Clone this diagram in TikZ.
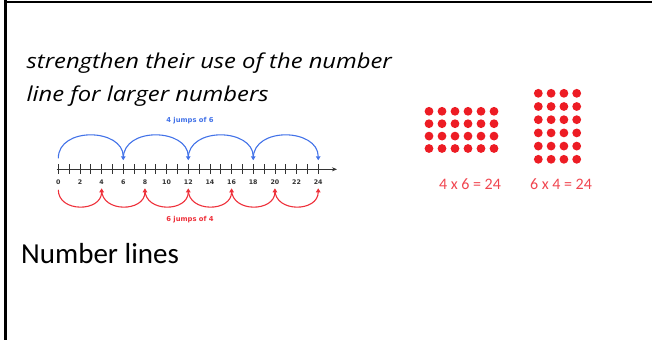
\documentclass[tikz,border=0pt]{standalone}
\usepackage{fontspec}
\setmainfont{Carlito}
\newfontfamily\headfont[FakeStretch=1.16]{Open Sans}
\newfontfamily\nlfont{DejaVu Sans}
\usetikzlibrary{arrows.meta,positioning}
\definecolor{nlblue}{RGB}{66,114,232}
\definecolor{nlred}{RGB}{238,48,58}
\definecolor{dotred}{RGB}{237,28,36}
\definecolor{eqred}{RGB}{240,70,80}

\begin{document}
\begin{tikzpicture}[
  x=1pt,y=-1pt,
  every node/.style={inner sep=0pt},
  headline/.style={anchor=base west,font=\headfont\itshape\fontsize{20.5}{24}\selectfont},
  ticklabel/.style={font=\nlfont\bfseries\fontsize{6.3}{7}\selectfont,text=black!80},
  jumplabel/.style={font=\nlfont\bfseries\fontsize{6.8}{7}\selectfont},
  bluejump/.style={nlblue,line width=1.1pt,-{Triangle[length=4pt,width=4.5pt]}},
  redjump/.style={nlred,line width=1.1pt,-{Triangle[length=4pt,width=4.5pt]}},
  reddot/.style={fill=dotred,draw=none},
  eqlabel/.style={font=\fontsize{16}{18}\selectfont,text=eqred},
]
  \useasboundingbox (0,0) rectangle (652,340);
  % frame
  \draw[line width=2.6pt] (5.3,1.8) -- (652,1.8);
  \draw[line width=2.6pt] (5.3,0) -- (5.3,340);

  % heading
  \node[headline] (head1) at (26.5,68) {strengthen their use of the number};
  \node[headline] (head2) at (26.5,101.5) {line for larger numbers};
  \node[anchor=base west,font=\fontsize{29}{32}\selectfont] (caption) at (21,263) {Number lines};

  % number line
  \foreach \n in {0,...,24}
    \coordinate (t\n) at ({58.3+\n*10.83},169.3);
  \coordinate (axisstart) at (56.7,169.3);
  \coordinate (axisend) at (337,169.3);
  \draw[line width=1.3pt,black!80,-{Stealth[length=5pt,width=4pt]}] (axisstart) -- (axisend);
  \foreach \n in {0,...,24}
    \draw[line width=0.8pt,black!80] ([yshift=5pt]t\n) -- ([yshift=-5pt]t\n);
  \foreach \n in {0,2,...,24}
    \node[ticklabel] (l\n) at ([yshift=-12.6pt]t\n) {\n};

  % jumps of 6
  \foreach \a/\b in {0/6,6/12,12/18,18/24}
    \draw[bluejump] ([yshift=11pt]t\a) .. controls +(0,-32) and +(0,-32) .. ([yshift=9pt]t\b);
  \node[jumplabel,text=nlblue] (sixes) at (190,121) {4 jumps of 6};

  % jumps of 4
  \foreach \a/\b in {0/4,4/8,8/12,12/16,16/20,20/24}
    \draw[redjump] ([yshift=-20.5pt]t\a) .. controls +(0,23) and +(0,24) .. ([yshift=-19pt]t\b);
  \node[jumplabel,text=nlred] (fours) at (190,220) {6 jumps of 4};

  % arrays
  \foreach \i in {0,...,5}
    \foreach \j in {0,...,3}
      \fill[reddot] ({429+13*\i},{111.3+12.4*\j}) circle[radius=4.4pt];
  \foreach \i in {0,...,3}
    \foreach \j in {0,...,5}
      \fill[reddot] ({538.3+12.8*\i},{93.3+13.2*\j}) circle[radius=4.4pt];
  \node[eqlabel] (eqa) at (470,184) {4 x 6 = 24};
  \node[eqlabel] (eqb) at (561,184) {6 x 4 = 24};
\end{tikzpicture}
\end{document}
